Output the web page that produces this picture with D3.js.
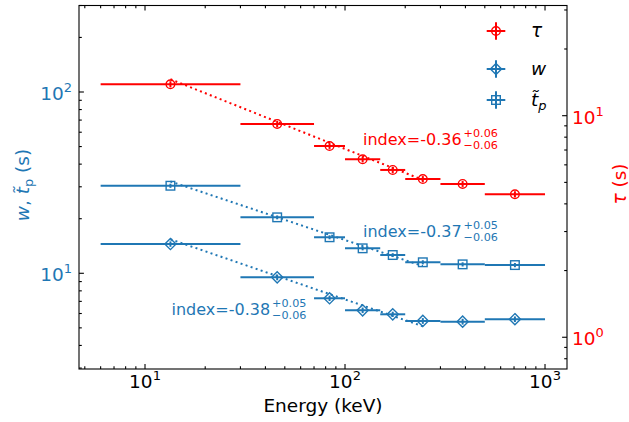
<!DOCTYPE html>
<html>
<head>
<meta charset="utf-8">
<script src="https://cdn.jsdelivr.net/npm/d3@7"></script>
<style>
  body { margin: 0; background: #fff; }
  svg { display: block; font-family: "DejaVu Sans", sans-serif; }
</style>
</head>
<body>
<svg id="chart" width="629" height="422"></svg>
<script>
// energy bins (keV) and their centres
const binLo = [6, 30, 70, 100, 150, 200, 300, 500];
const binHi = [30, 70, 100, 150, 200, 300, 500, 1000];
const binMid = [13.4, 45.8, 83.7, 122.5, 173.2, 244.9, 387.3, 707.1];

// timescales (s)
const tauVals = [13.86, 9.18, 7.30, 6.36, 5.69, 5.18, 4.92, 4.42];
const tauErr = [0.45, 0.3, 0.22, 0.2, 0.18, 0.16, 0.15, 0.14];
const wVals = [14.5, 9.5, 7.28, 6.25, 5.94, 5.46, 5.41, 5.58];
const wErr = [0.5, 0.35, 0.25, 0.22, 0.2, 0.2, 0.2, 0.2];
const tpVals = [30.4, 20.35, 15.8, 13.73, 12.61, 11.5, 11.2, 11.1];
const tpErr = [0.8, 0.5, 0.4, 0.35, 0.3, 0.3, 0.3, 0.3];

// power-law fits: norm at the pivot energy, index and its errors
const fitRange = [13.4, 244.9];
const fitNorm = { tau: 14.6, w: 15.4, tp: 32.1 };
const fitIndex = { tau: ["-0.36", "+0.06", "−0.06"], w: ["-0.38", "+0.05", "−0.06"], tp: ["-0.37", "+0.05", "−0.06"] };

const RED = "#ff0000", BLUE = "#1f77b4";
const FS = 18.5, FS_SUP = 13;
const svg = d3.select("#chart");
const X0 = 79, X1 = 567, Y0 = 5.5, Y1 = 369;

const x = d3.scaleLog().domain([4.677, 1288]).range([X0, X1]);
const yL = d3.scaleLog().domain([2.965, 300]).range([Y1, Y0]);
const yR = d3.scaleLog().domain([0.719, 31.43]).range([Y1, Y0]);

const plot = svg.append("g");

// fitted power laws
function fitLine(scale, key, color) {
  const idx = +fitIndex[key][0];
  const pts = fitRange.map(e => [x(e), scale(fitNorm[key] * Math.pow(e / fitRange[0], idx))]);
  plot.append("path")
    .attr("d", d3.line()(pts))
    .attr("stroke", color).attr("stroke-width", 2)
    .attr("stroke-dasharray", "2,3.3").attr("fill", "none");
}

function series(scale, vals, errs, color, shape) {
  const g = plot.append("g").attr("stroke", color).attr("fill", "none");
  vals.forEach((v, i) => {
    g.append("line").attr("x1", x(binLo[i])).attr("x2", x(binHi[i]))
      .attr("y1", scale(v)).attr("y2", scale(v)).attr("stroke-width", 2);
    g.append("line").attr("x1", x(binMid[i])).attr("x2", x(binMid[i]))
      .attr("y1", scale(v - errs[i])).attr("y2", scale(v + errs[i])).attr("stroke-width", 2);
    drawMarker(g, x(binMid[i]), scale(v), shape);
  });
}

function drawMarker(g, cx, cy, shape) {
  if (shape === "circle") {
    g.append("circle").attr("cx", cx).attr("cy", cy).attr("r", 4.3).attr("stroke-width", 1.4);
  } else if (shape === "square") {
    g.append("rect").attr("x", cx - 4.3).attr("y", cy - 4.3).attr("width", 8.6).attr("height", 8.6).attr("stroke-width", 1.4);
  } else {
    const d = 5.6;
    g.append("path").attr("d", `M${cx},${cy - d}L${cx + d},${cy}L${cx},${cy + d}L${cx - d},${cy}Z`).attr("stroke-width", 1.4);
  }
}

fitLine(yL, "tp", BLUE);
fitLine(yL, "w", BLUE);
series(yL, tpVals, tpErr, BLUE, "square");
series(yL, wVals, wErr, BLUE, "diamond");
fitLine(yR, "tau", RED);
series(yR, tauVals, tauErr, RED, "circle");

// frame
svg.append("rect").attr("x", X0).attr("y", Y0).attr("width", X1 - X0).attr("height", Y1 - Y0)
  .attr("fill", "none").attr("stroke", "#000").attr("stroke-width", 1.1);

const axes = svg.append("g").attr("stroke", "#000").attr("stroke-width", 1.1);
const isMajor = v => Math.abs(Math.log10(v) - Math.round(Math.log10(v))) < 1e-9;

function powLabel(sel, exp) {
  sel.append("tspan").text("10");
  sel.append("tspan").attr("dy", -8).attr("font-size", FS_SUP).text(exp);
}

// x axis ticks (bottom and top)
x.ticks().forEach(v => {
  const len = isMajor(v) ? 4.9 : 2.8, px = x(v);
  axes.append("line").attr("x1", px).attr("x2", px).attr("y1", Y1).attr("y2", Y1 - len);
  axes.append("line").attr("x1", px).attr("x2", px).attr("y1", Y0).attr("y2", Y0 + len);
  if (isMajor(v)) {
    const t = svg.append("text").attr("x", px).attr("y", 388).attr("text-anchor", "middle")
      .attr("font-size", FS).attr("fill", "#000");
    powLabel(t, Math.round(Math.log10(v)));
  }
});

// left axis
yL.ticks().forEach(v => {
  const len = isMajor(v) ? 4.9 : 2.8, py = yL(v);
  axes.append("line").attr("x1", X0).attr("x2", X0 + len).attr("y1", py).attr("y2", py);
  if (isMajor(v)) {
    const t = svg.append("text").attr("x", 72).attr("y", py + 8).attr("text-anchor", "end")
      .attr("font-size", FS).attr("fill", BLUE);
    powLabel(t, Math.round(Math.log10(v)));
  }
});

// right axis
yR.ticks().forEach(v => {
  const len = isMajor(v) ? 4.9 : 2.8, py = yR(v);
  axes.append("line").attr("x1", X1).attr("x2", X1 - len).attr("y1", py).attr("y2", py);
  if (isMajor(v)) {
    const t = svg.append("text").attr("x", 572).attr("y", py + 8).attr("text-anchor", "start")
      .attr("font-size", FS).attr("fill", RED);
    powLabel(t, Math.round(Math.log10(v)));
  }
});

// axis titles
svg.append("text").attr("x", (X0 + X1) / 2).attr("y", 411.5).attr("text-anchor", "middle")
  .attr("font-size", FS).text("Energy (keV)");

const yTitle = svg.append("text").attr("transform", "translate(29,185) rotate(-90)")
  .attr("text-anchor", "middle").attr("font-size", FS).attr("fill", BLUE);
yTitle.append("tspan").attr("font-style", "italic").text("w");
yTitle.append("tspan").text(", ");
yTitle.append("tspan").attr("font-style", "italic").text("t\u0303");
yTitle.append("tspan").attr("dy", 4).attr("font-size", FS_SUP).text("p");
yTitle.append("tspan").attr("dy", -4).text(" (s)");

svg.append("text").attr("transform", "translate(626,184) rotate(-90)")
  .attr("text-anchor", "middle").attr("font-size", FS).attr("fill", RED)
  .html('<tspan font-style="italic">τ</tspan> (s)');

// index annotations
function indexNote(key, px, py, color) {
  const [val, up, dn] = fitIndex[key];
  const main = svg.append("text").attr("x", px).attr("y", py).attr("font-size", 16)
    .attr("fill", color).text("index=" + val);
  const w = main.node().getComputedTextLength();
  svg.append("text").attr("x", px + w + 2).attr("y", py - 7.7).attr("font-size", 11.2)
    .attr("fill", color).text(up);
  svg.append("text").attr("x", px + w + 2).attr("y", py + 4.3).attr("font-size", 11.2)
    .attr("fill", color).text(dn);
}
indexNote("tau", 363, 145, RED);
indexNote("tp", 363, 236.7, BLUE);
indexNote("w", 171.5, 315, BLUE);

// legend
const legend = [
  { color: RED, shape: "circle", y: 31, label: "τ" },
  { color: BLUE, shape: "diamond", y: 69, label: "w" },
  { color: BLUE, shape: "square", y: 100, label: "tp" }
];
legend.forEach(d => {
  const g = svg.append("g").attr("stroke", d.color).attr("fill", "none");
  g.append("line").attr("x1", 486.7).attr("x2", 505.3).attr("y1", d.y).attr("y2", d.y).attr("stroke-width", 2);
  g.append("line").attr("x1", 496).attr("x2", 496).attr("y1", d.y - 8.8).attr("y2", d.y + 8.8).attr("stroke-width", 2);
  drawMarker(g, 496, d.y, d.shape);
  const t = svg.append("text").attr("x", 531).attr("y", d.y + 6).attr("font-size", FS)
    .attr("font-style", "italic").attr("fill", "#000");
  if (d.label === "tp") {
    t.append("tspan").text("t\u0303");
    t.append("tspan").attr("dy", 4).attr("font-size", FS_SUP).text("p");
  } else {
    t.text(d.label);
  }
});
</script>
</body>
</html>
